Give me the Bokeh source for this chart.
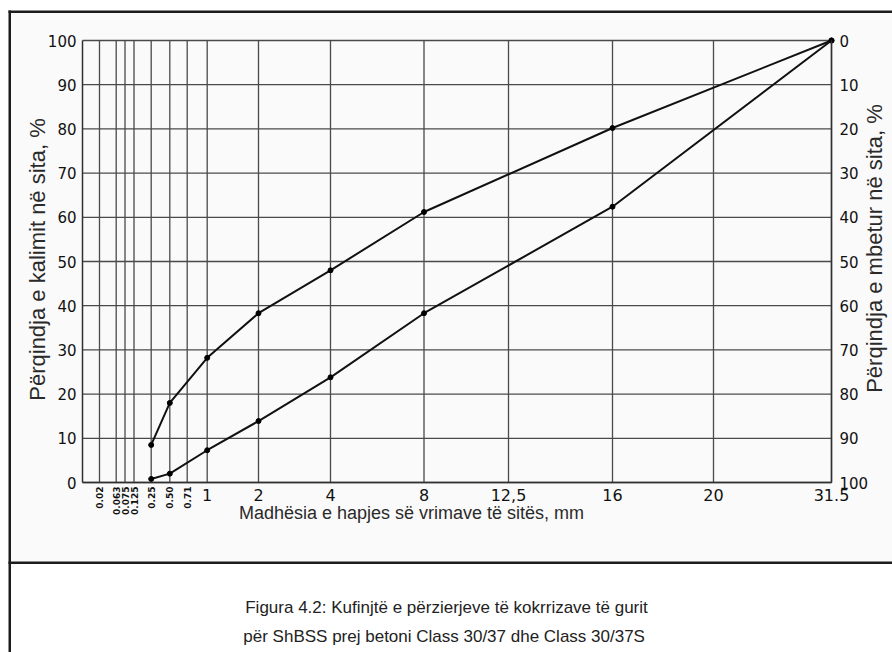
import math
from bokeh.plotting import figure
from bokeh.models import (Range1d, LinearAxis, FixedTicker, LabelSet, ColumnDataSource,
                          BoxAnnotation, Label)
from bokeh.core.properties import value
from bokeh.embed import file_html
from bokeh.resources import INLINE

# ---- data -------------------------------------------------------------
# sieve openings (mm) as printed under the axis, and their place on the chart's sieve scale
sieve_labels = ["0.02", "0.063", "0.075", "0.125", "0.25", "0.50", "0.71",
                "1", "2", "4", "8", "12,5", "16", "20", "31.5"]
sieve_scale = [17, 33.7, 42.5, 51.5, 68.7, 87.3, 104.7,
               124.7, 176, 248, 341.5, 426, 530, 631, 749]
small_labels = ["0.02", "0.063", "0.075", "0.125", "0.25", "0.50", "0.71"]

# grading limits (passing %)
curve_sieves = ["0.25", "0.50", "1", "2", "4", "8", "16", "31.5"]
upper_limit = [8.5, 18.0, 28.2, 38.3, 48.0, 61.2, 80.2, 100]
lower_limit = [0.8, 2.0, 7.3, 13.9, 23.8, 38.3, 62.4, 100]

y_ticks = [0, 10, 20, 30, 40, 50, 60, 70, 80, 90, 100]

caption_lines = ["Figura 4.2: Kufinjtë e përzierjeve të kokrrizave të gurit",
                 "për ShBSS prej betoni  Class 30/37 dhe Class 30/37S"]

# ---- page geometry ------------------------------------------------------
W, H = 892, 652
AX_X = 82                  # page x of the left axis
AX_Y0, AX_Y100 = 482, 40   # page y of 0 % and 100 %
K = (AX_Y0 - AX_Y100) / 100.0

x_lo, x_hi = -AX_X, W - AX_X
y_lo, y_hi = -(H - AX_Y0) / K, AX_Y0 / K

pos = dict(zip(sieve_labels, sieve_scale))
overrides = {pos[s]: ("" if s in small_labels else s) for s in sieve_labels}
x_max = sieve_scale[-1]

p = figure(width=W, height=H, output_backend="svg", toolbar_location=None,
           x_range=Range1d(x_lo, x_hi), y_range=Range1d(y_lo, y_hi),
           min_border=0, min_border_left=0, min_border_right=0,
           min_border_top=0, min_border_bottom=0,
           x_axis_location=None, y_axis_location=None)
p.outline_line_color = None
p.background_fill_color = "#ffffff"
p.border_fill_color = "#ffffff"
p.xgrid.visible = False
p.ygrid.visible = False

GRID = "#4a4a4a"
TXT = "#111111"
LAB = "#2a2a2a"
AXL = "#303030"


def sy(py):
    return H - py


# light tone of the scanned upper panel
p.add_layout(BoxAnnotation(left=10.5, right=W, top=sy(12.5), bottom=sy(561),
                           left_units="screen", right_units="screen", top_units="screen",
                           bottom_units="screen", fill_color="#fafafa", fill_alpha=1,
                           line_color=None, level="underlay"))

# grid lines (vertical at each sieve, horizontal every 10 %)
vg = ColumnDataSource(dict(x0=sieve_scale, x1=sieve_scale,
                           y0=[0] * len(sieve_scale), y1=[100] * len(sieve_scale)))
p.segment("x0", "y0", "x1", "y1", source=vg, line_color=GRID, line_width=1.3)
hg = ColumnDataSource(dict(x0=[0] * len(y_ticks), x1=[x_max] * len(y_ticks),
                           y0=y_ticks, y1=y_ticks))
p.segment("x0", "y0", "x1", "y1", source=hg, line_color=GRID, line_width=1.3)

# x axis (large labels), fixed at 0 %
xa = LinearAxis(ticker=FixedTicker(ticks=sieve_scale), major_label_overrides=overrides,
                fixed_location=0, bounds=(0, x_max))
xa.axis_line_color = AXL
xa.axis_line_width = 1.5
xa.major_tick_line_color = None
xa.minor_tick_line_color = None
xa.major_label_standoff = 0
xa.major_label_text_font = "DejaVu Sans"
xa.major_label_text_font_size = "16px"
xa.major_label_text_color = TXT
p.add_layout(xa, "below")

# left axis
ya = LinearAxis(ticker=FixedTicker(ticks=y_ticks), fixed_location=0, bounds=(0, 100))
ya.axis_line_color = AXL
ya.axis_line_width = 1.5
ya.major_tick_line_color = None
ya.minor_tick_line_color = None
ya.major_label_standoff = 0
ya.major_label_text_font = "DejaVu Sans"
ya.major_label_text_font_size = "15px"
ya.major_label_text_color = TXT
p.add_layout(ya, "left")

# right axis (retained %, reversed)
p.extra_y_ranges = {"ret": Range1d(100 - y_lo, 100 - y_hi)}
ra = LinearAxis(y_range_name="ret", ticker=FixedTicker(ticks=y_ticks),
                fixed_location=x_max, bounds=(0, 100))
ra.axis_line_color = AXL
ra.axis_line_width = 1.5
ra.major_tick_line_color = None
ra.minor_tick_line_color = None
ra.major_label_standoff = 2
ra.major_label_text_font = "DejaVu Sans"
ra.major_label_text_font_size = "15px"
ra.major_label_text_color = TXT
p.add_layout(ra, "right")

# axis titles (screen units: x from left, y from bottom of page)
p.add_layout(Label(x=37, y=sy(259), x_units="screen", y_units="screen",
                   text="Përqindja e kalimit në sita, %", angle=math.pi / 2,
                   text_align="center", text_baseline="middle",
                   text_font="Liberation Sans", text_font_size="22px", text_color=LAB))
p.add_layout(Label(x=874, y=sy(248), x_units="screen", y_units="screen",
                   text="Përqindja e mbetur në sita, %", angle=math.pi / 2,
                   text_align="center", text_baseline="middle",
                   text_font="Liberation Sans", text_font_size="22px", text_color=LAB))
p.add_layout(Label(x=411, y=sy(512), x_units="screen", y_units="screen",
                   text="Madhësia e hapjes së vrimave të sitës, mm",
                   text_align="center", text_baseline="middle",
                   text_font="Liberation Sans", text_font_size="18px", text_color=LAB))

# small rotated sieve labels
small_src = ColumnDataSource(dict(x=[pos[s] for s in small_labels], y=[0] * len(small_labels),
                                  t=small_labels))
p.add_layout(LabelSet(x="x", y="y", text="t", source=small_src, angle=math.pi / 2,
                      y_offset=-4, text_align="right", text_baseline="middle",
                      text_font=value("DejaVu Sans"), text_font_size=value("9px"),
                      text_font_style="bold", text_color=TXT))

# curves
cx = [pos[s] for s in curve_sieves]
for series in (upper_limit, lower_limit):
    src = ColumnDataSource(dict(x=cx, y=series))
    p.line("x", "y", source=src, line_color="#111111", line_width=2)
    p.scatter("x", "y", source=src, size=5, fill_color="#000000", line_color="#000000")

# page frame of the scanned figure
BORDER = "#1c1c1c"


def box(l, r, t, b):
    p.add_layout(BoxAnnotation(left=l, right=r, top=sy(t), bottom=sy(b),
                               left_units="screen", right_units="screen", top_units="screen",
                               bottom_units="screen", fill_color=BORDER, fill_alpha=1,
                               line_color=None))


box(8, 10.5, 10, H)        # left edge
box(8, W, 10, 12.5)        # top edge
box(8, W, 561, 563.5)      # divider above the caption

# caption
for txt, py in zip(caption_lines, (607, 636)):
    p.add_layout(Label(x=446, y=sy(py), x_units="screen", y_units="screen", text=txt,
                       text_align="center", text_baseline="middle",
                       text_font="Liberation Sans", text_font_size="17px", text_color="#222222"))

open("out.html", "w").write(file_html(p, INLINE))
